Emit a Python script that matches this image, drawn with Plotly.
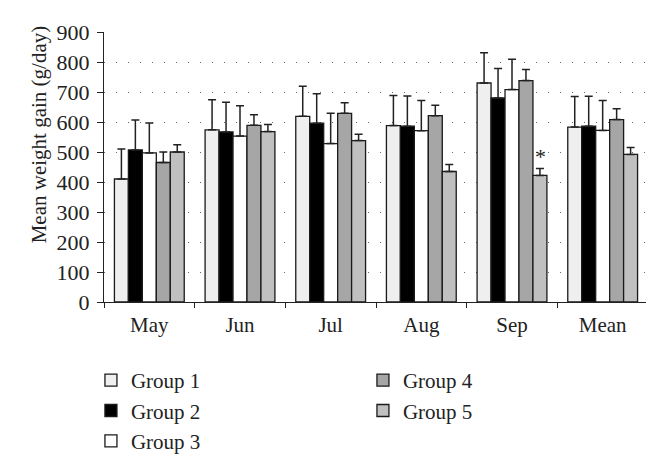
import plotly.graph_objects as go

categories = ["May", "Jun", "Jul", "Aug", "Sep", "Mean"]
groups = ["Group 1", "Group 2", "Group 3", "Group 4", "Group 5"]
means = {
    "Group 1": [410, 574, 619, 588, 730, 583],
    "Group 2": [507, 567, 596, 586, 680, 586],
    "Group 3": [497, 553, 528, 571, 708, 572],
    "Group 4": [465, 589, 629, 621, 738, 608],
    "Group 5": [500, 568, 538, 435, 422, 492],
}
errors = {
    "Group 1": [100, 100, 100, 100, 101, 102],
    "Group 2": [100, 99, 98, 101, 98, 100],
    "Group 3": [100, 101, 101, 101, 101, 100],
    "Group 4": [35, 35, 35, 35, 37, 36],
    "Group 5": [24, 24, 21, 23, 23, 23],
}
colors = {
    "Group 1": "#efefef",
    "Group 2": "#000000",
    "Group 3": "#ffffff",
    "Group 4": "#a6a6a6",
    "Group 5": "#c0c0c0",
}
legend_of = {"Group 1": "legend", "Group 2": "legend", "Group 3": "legend",
             "Group 4": "legend2", "Group 5": "legend2"}
y_title = "Mean weight gain (g/day)"
sig_group = "Group 5"
sig_marks = ["", "", "", "", "*", ""]

FONT = "Liberation Serif, Times New Roman, serif"

fig = go.Figure()
for g in groups:
    fig.add_trace(go.Bar(
        name=g, x=categories, y=means[g],
        marker=dict(color=colors[g], line=dict(color="#1a1a1a", width=1.3)),
        error_y=dict(type="data", symmetric=False, array=errors[g],
                     arrayminus=[0] * len(categories),
                     color="#222222", thickness=1.5, width=4),
        legend=legend_of[g],
    ))

gi = groups.index(sig_group)
for i, m in enumerate(sig_marks):
    if m:
        fig.add_annotation(
            x=categories[i], y=means[sig_group][i] + errors[sig_group][i],
            text=m, showarrow=False, yanchor="bottom",
            xshift=(gi - 2) * 14, yshift=-2,
            font=dict(family=FONT, size=22, color="#222"),
        )

# y-axis title (placed slightly above the axis centre, as in the original)
fig.add_annotation(
    text=y_title, textangle=-90, showarrow=False,
    xref="paper", yref="paper", x=-0.12, y=0.62,
    xanchor="center", yanchor="middle",
    font=dict(family=FONT, size=21, color="#222"),
)

fig.update_layout(
    width=654, height=465,
    margin=dict(l=96, r=14, t=22, b=157),
    plot_bgcolor="white", paper_bgcolor="white",
    barmode="group", bargap=0.23, bargroupgap=0,
    font=dict(family=FONT, size=21, color="#222"),
    showlegend=True,
    legend=dict(x=-0.024, y=-0.215, xanchor="left", yanchor="top",
                font=dict(family=FONT, size=21, color="#222"),
                bgcolor="rgba(0,0,0,0)", tracegroupgap=0, itemclick=False),
    legend2=dict(x=0.476, y=-0.215, xanchor="left", yanchor="top",
                 font=dict(family=FONT, size=21, color="#222"),
                 bgcolor="rgba(0,0,0,0)", tracegroupgap=0, itemclick=False),
    yaxis=dict(
        range=[0, 900], tickvals=list(range(0, 901, 100)),
        showline=True, linecolor="#222", linewidth=1.3,
        ticks="outside", ticklen=6, tickcolor="#222", tickwidth=1.3,
        showgrid=True, gridcolor="#666", gridwidth=1, griddash="1px,11px",
        zeroline=False, ticklabelstandoff=3,
        tickfont=dict(family=FONT, size=22, color="#222"),
    ),
    xaxis=dict(
        showline=True, linecolor="#222", linewidth=1.3,
        ticks="outside", tickson="boundaries", ticklen=5,
        tickcolor="#222", tickwidth=1.3, ticklabelstandoff=4,
        showgrid=False,
        tickfont=dict(family=FONT, size=21, color="#222"),
    ),
)

fig.write_html("out.html")
